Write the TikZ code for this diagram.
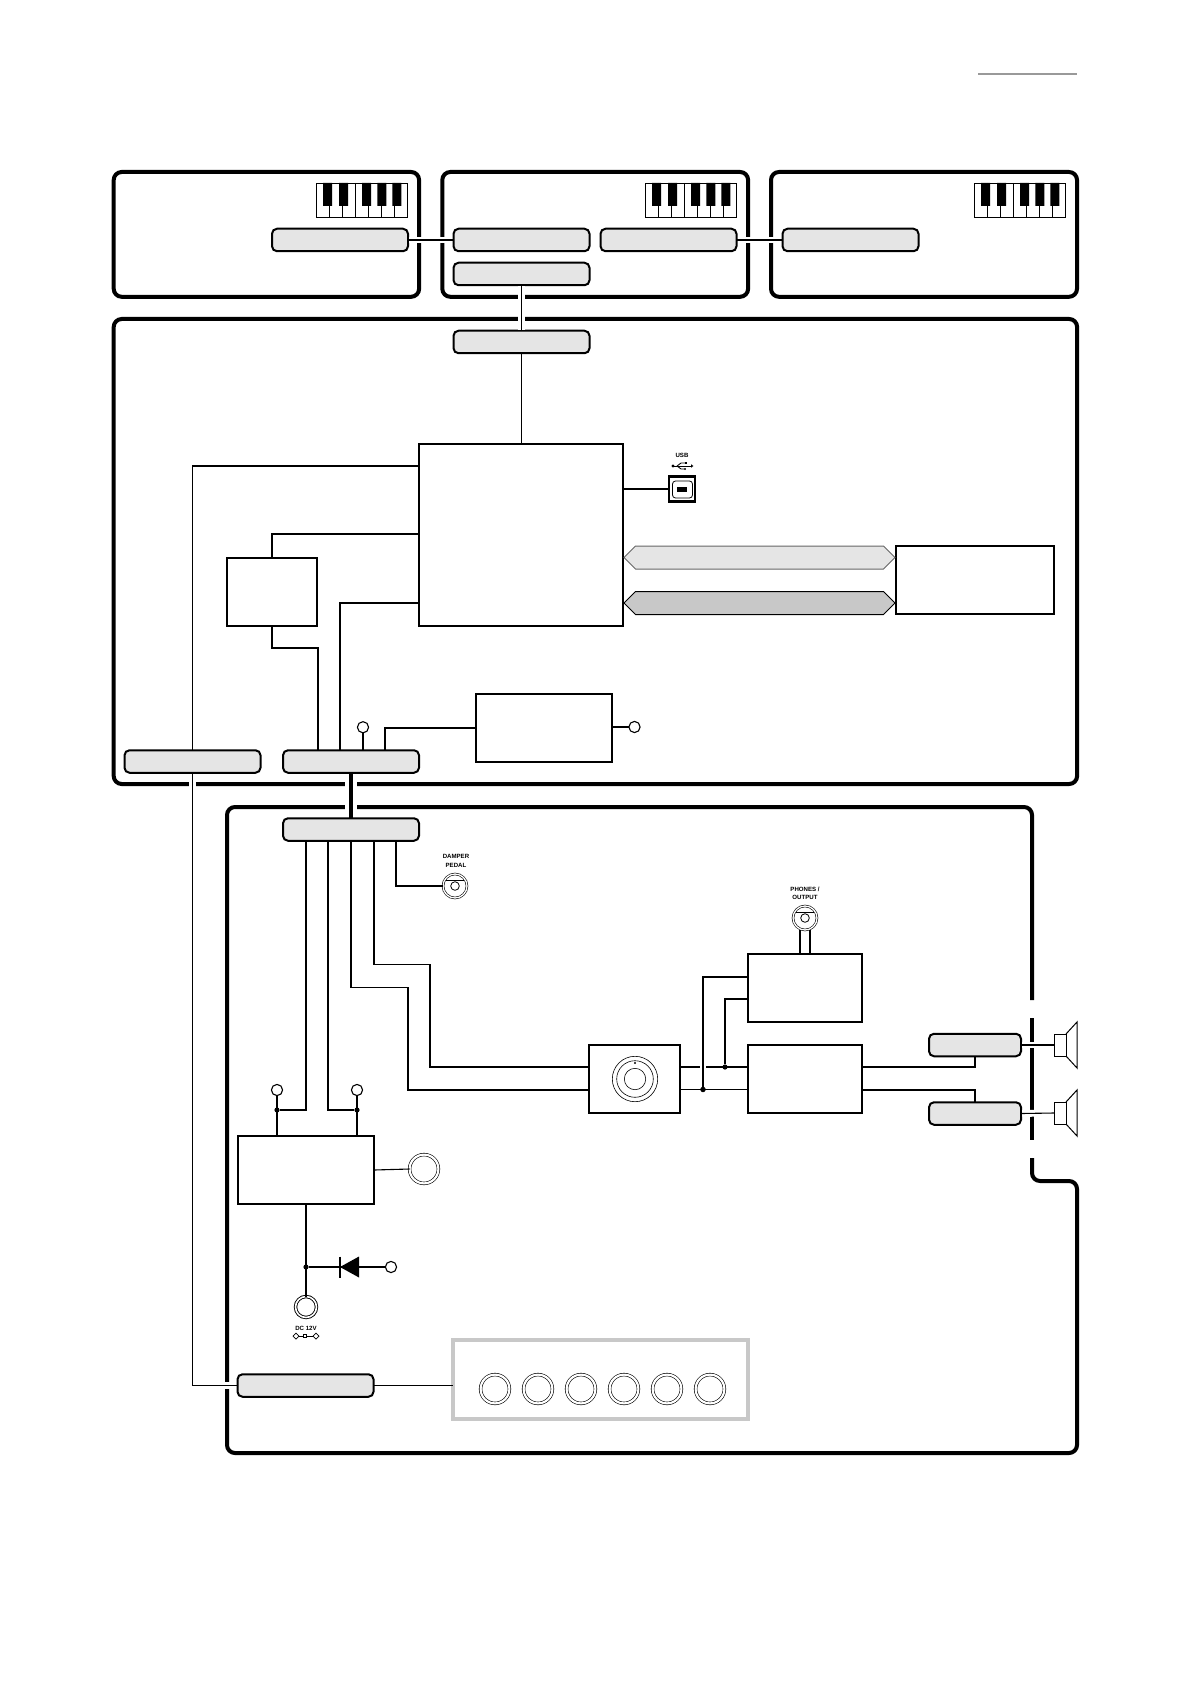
\documentclass[tikz,border=0pt]{standalone}
\usepackage{fontspec}
\setmainfont{Liberation Sans}
\usetikzlibrary{calc, shapes.geometric, shapes.symbols}
\definecolor{portgray}{HTML}{E5E5E5}
\definecolor{busgray}{HTML}{C8C8C8}
\tikzset{
    every node/.style={
        inner sep=0pt, outer sep=0pt
    },
    my-frame/.style={
        line width=2pt, rounded corners=4pt
    },
    my-frame-node/.style={
        draw, my-frame
    },
    my-box/.style={
        draw, line width=1pt, fill=white
    },
    my-port/.style={
        draw, line width=1pt, fill=portgray, rounded corners=2.5pt,
        minimum width=68pt, minimum height=11.25pt
    },
    my-short-port/.style={
        my-port, minimum width=46pt
    },
    my-bus/.style={
        signal, signal to=east and west, draw, line width=.5pt,
        minimum width=135.5pt, minimum height=11.5pt
    },
    my-wire/.style={
        line width=.55pt
    },
    my-cross-wire/.style={
        my-wire, preaction={draw, white, line width=3.4pt, shorten <=.6pt, shorten >=.6pt}
    },
    my-thick-wire/.style={
        line width=2pt, preaction={draw, white, line width=6pt, shorten <=.6pt, shorten >=.6pt}
    },
    my-dot/.style={
        fill, shape=circle, minimum size=2.6pt
    },
    my-probe/.style={
        draw, shape=circle, fill=white, line width=.55pt, minimum size=5.6pt
    },
    my-ring/.style={
        draw, shape=circle, line width=.3pt, double, double distance=1.1pt, minimum size=14.4pt
    },
    my-jack/.style={
        my-ring, double distance=.65pt, minimum size=12pt
    },
    my-thin-circle/.style={
        draw, shape=circle, line width=.3pt
    },
    my-text/.style={
        font=\bfseries\fontsize{3.05}{4.3}\selectfont, align=center
    },
    my-keys/.pic={
        \draw[line width=.4pt] (0,0) rectangle (90.6,34)
            (12.9,0) -- (12.9,34) (25.5,0) -- (25.5,34) (38.5,0) -- (38.5,34)
            (52,0) -- (52,34) (65,0) -- (65,34) (78,0) -- (78,34);
        \fill (6.3,0) rectangle ++(9,23) (22.3,0) rectangle ++(9,23) (45.3,0) rectangle ++(9,23)
            (60.5,0) rectangle ++(9,23) (75.5,0) rectangle ++(9,23);
    },
}
\begin{document}
\begin{tikzpicture}[x=.5pt, y=-.5pt]
    \useasboundingbox (0,0) rectangle (1191,1684);

    % TOP RULE
    \draw[line width=1pt, black!40] (978,74) -- (1077,74);

    % FRAMES
    \node[my-frame-node, minimum width=152.7pt, minimum height=62.4pt] (KBD1)   at (266.4,234.4) {};
    \node[my-frame-node, minimum width=152.9pt, minimum height=62.4pt] (KBD2)   at (595.2,234.4) {};
    \node[my-frame-node, minimum width=153pt, minimum height=62.4pt]   (KBD3)   at (924,234.4)   {};
    \node[my-frame-node, minimum width=481.7pt, minimum height=232.5pt] (MAIN)  at (595.4,551.5) {};
    \draw[my-frame] (1032,1000) -- (1032,807) -- (227,807) -- (227,1453) -- (1077,1453) -- (1077,1181) -- (1032,1181) -- (1032,1158);
    \draw[my-frame] (1032,1018) -- (1032,1140);

    % KEYBOARDS
    \pic at (316.8,183) {my-keys};
    \pic at (645.8,183) {my-keys};
    \pic at (974.8,183) {my-keys};

    % PORTS
    \node[my-port] (KBD1OUT)  at (340,240)      {};
    \node[my-port] (KBD2IN)   at (521.5,240)    {};
    \node[my-port] (KBD2USB)  at (521.5,274)    {};
    \node[my-port] (KBD2OUT)  at (668.5,240)    {};
    \node[my-port] (KBD3IN)   at (850.5,240)    {};
    \node[my-port] (MAINUSB)  at (521.5,342)    {};
    \node[my-port] (MAINL)    at (192.5,761.5)  {};
    \node[my-port] (MAINR)    at (351,761.5)    {};
    \node[my-port] (LOWTOP)   at (351,829.5)    {};
    \node[my-port] (LOWBOT)   at (305.5,1385.5) {};
    \node[my-short-port] (SPKPORT1) at (975,1045)   {};
    \node[my-short-port] (SPKPORT2) at (975,1113.5) {};

    % MAIN BOARD BOXES
    \node[my-box, minimum width=102pt, minimum height=91pt] (CPU)   at (521,535)   {};
    \node[my-box, minimum width=45pt, minimum height=34pt]  (SMALL) at (272,592)   {};
    \node[my-box, minimum width=68pt, minimum height=34pt]  (PSU)   at (544,728)   {};
    \node[my-box, minimum width=79pt, minimum height=34pt]  (MEM)   at (975,580)   {};

    % LOWER BOARD BOXES
    \node[my-box, minimum width=68pt, minimum height=34pt]   (PSB) at (306,1170)   {};
    \node[my-box, minimum width=45.5pt, minimum height=34pt] (VOL) at (634.5,1079) {};
    \node[my-box, minimum width=57pt, minimum height=34pt]   (AMP) at (805,1079)   {};
    \node[my-box, minimum width=57pt, minimum height=34pt]   (HPA) at (805,988)    {};
    \node[draw=busgray, line width=1.8pt, minimum width=147.5pt, minimum height=39.5pt] (PANEL) at (600.5,1379.5) {};

    % BUSES
    \node[my-bus, draw=black!60, fill=portgray] (BUSA) at (759.5,557.5) {};
    \node[my-bus, fill=busgray]                 (BUSB) at (759.5,603)   {};

    % USB SOCKET
    \node[my-box, line width=1.2pt, minimum width=13pt, minimum height=12.5pt] (USB) at (682,489) {};
    \node[draw, line width=.4pt, rounded corners=1.5pt, minimum width=10pt, minimum height=8.5pt] (USBIN) at (682.5,489.5) {};
    \node[fill, minimum width=5pt, minimum height=2.5pt] (USBPIN) at (682,489.5) {};
    \node[my-text] (USBTEXT) at (682,455) {USB};
    \coordinate (USBSYM) at (673,466);
    \draw[line width=.45pt] (USBSYM) -- ++(18,0);
    \draw[line width=.45pt] ($(USBSYM) + (4,0)$) -- ++(4,-3) -- ++(4,0) ($(USBSYM) + (4,0)$) -- ++(4,3) -- ++(3,0);
    \fill (USBSYM) circle (1.7);
    \fill ($(USBSYM) + (18,-1.8)$) -- ++(2.4,1.8) -- ++(-2.4,1.8) -- cycle;
    \fill ($(USBSYM) + (12,-4)$) rectangle ++(2,2);
    \fill ($(USBSYM) + (12,3)$) circle (1.1);

    % CPU CONNECTOR POINTS
    \coordinate (CPUW1) at ($(CPU.north west) + (0,22)$);
    \coordinate (CPUW2) at ($(CPU.north west) + (0,90)$);
    \coordinate (CPUW3) at ($(CPU.north west) + (0,159)$);
    \coordinate (MAINR1) at ($(MAINR.north) + (-33,0)$);
    \coordinate (MAINR2) at ($(MAINR.north) + (-11,0)$);
    \coordinate (MAINR3) at ($(MAINR.north) + (12,0)$);
    \coordinate (MAINR4) at ($(MAINR.north) + (34,0)$);

    % KEYBOARD CONNECTIONS
    \draw[my-cross-wire] (KBD1OUT) -- (KBD2IN);
    \draw[my-cross-wire] (KBD2OUT) -- (KBD3IN);
    \draw[my-cross-wire] (KBD2USB.south) -- (MAINUSB.north);

    % MAIN BOARD WIRES
    \draw[my-wire] (MAINUSB.south) -- (MAINUSB.south |- CPU.north);
    \draw[my-wire] (CPU.east |- USB) -- (USB.west);
    \draw[my-wire] (CPUW1) -| (MAINL.north);
    \draw[my-wire] (CPUW2) -| (SMALL.north);
    \draw[my-wire] (SMALL.south) -- ++(0,22) -| (MAINR1);
    \draw[my-wire] (CPUW3) -| (MAINR2);
    \draw[my-wire] (MAINR4) |- (PSU.west);
    \node[my-probe] (TPMAIN) at ($(MAINR3) + (0,-23)$) {};
    \draw[my-wire] (TPMAIN) -- (MAINR3);
    \node[my-probe] (TPPSU) at ($(PSU.east) + (22.5,-1)$) {};
    \draw[my-wire] (PSU.east |- TPPSU) -- (TPPSU);

    % BOARD TO BOARD WIRES
    \draw[my-cross-wire] (MAINL.south) |- (LOWBOT.west);
    \draw[my-thick-wire] (MAINR.south) -- (LOWTOP.north);
    \draw[my-wire] (LOWBOT.east) -- (PANEL.west |- LOWBOT);

    % JACKS
    \node[my-jack] (DAMPER) at (455,886) {};
    \node[my-thin-circle, line width=.4pt, minimum size=4.3pt] (DAMPERIN) at (455,886) {};
    \draw[line width=.4pt] ($(DAMPER) + (-9.3,-6)$) -- ($(DAMPER) + (9.3,-6)$);
    \node[my-text] (DAMPERTEXT) at (456,861) {DAMPER\\PEDAL};
    \node[my-jack] (PHONES) at (805,918) {};
    \node[my-thin-circle, line width=.4pt, minimum size=4.3pt] (PHONESIN) at (805,918) {};
    \draw[line width=.4pt] ($(PHONES) + (-9.3,-6)$) -- ($(PHONES) + (9.3,-6)$);
    \node[my-text] (PHONESTEXT) at (805,893.5) {PHONES /\\OUTPUT};
    \node[my-ring, line width=.45pt, double distance=.8pt, minimum size=10.5pt] (DCIN) at (306,1307) {};
    \node[my-ring] (POWER) at (424,1169) {};

    % LOWER PORT CONNECTOR POINTS
    \coordinate (LOW1) at ($(LOWTOP.south) + (-45,0)$);
    \coordinate (LOW2) at ($(LOWTOP.south) + (-23,0)$);
    \coordinate (LOW3) at (LOWTOP.south);
    \coordinate (LOW4) at ($(LOWTOP.south) + (23,0)$);
    \coordinate (LOW5) at ($(LOWTOP.south) + (45,0)$);
    \coordinate (VOLIN1) at ($(VOL.west) + (0,-12)$);
    \coordinate (VOLIN2) at ($(VOL.west) + (0,11)$);
    \coordinate (VOLOUT1) at ($(VOL.east) + (0,-12)$);
    \coordinate (VOLOUT2) at ($(VOL.east) + (0,10.5)$);
    \coordinate (AMPOUT1) at ($(AMP.east) + (0,-12)$);
    \coordinate (AMPOUT2) at ($(AMP.east) + (0,11)$);

    % LOWER BOARD WIRES
    \draw[my-wire] (LOW5) |- (DAMPER.west);
    \draw[my-wire] (LOW4) -- ++(0,124) -- ++(56,0) |- (VOLIN1);
    \draw[my-wire] (LOW3) -- ++(0,147) -- ++(57,0) |- (VOLIN2);
    \draw[my-wire] (PSB.east) -- (POWER.west);

    % POWER PROBES
    \node[my-probe] (TPL) at (277,1090) {};
    \node[my-probe] (TPR) at (357,1090) {};
    \node[my-dot]   (DOTL) at ($(TPL) + (0,20)$) {};
    \node[my-dot]   (DOTR) at ($(TPR) + (0,20)$) {};
    \draw[my-wire] (TPL) -- (TPL |- PSB.north);
    \draw[my-wire] (TPR) -- (TPR |- PSB.north);
    \draw[my-wire] (LOW1) |- (DOTL);
    \draw[my-wire] (LOW2) |- (DOTR);

    % DC INPUT AND DIODE
    \node[my-dot]   (DOTDC)  at ($(PSB.south) + (0,63)$) {};
    \coordinate     (DIODE)  at ($(DOTDC) + (34,0)$);
    \node[my-probe] (TPDC)   at ($(DOTDC) + (85,0)$) {};
    \draw[my-wire] (PSB.south) -- (DCIN.north);
    \draw[my-wire] (DOTDC) -- (TPDC);
    \fill (DIODE) -- ++(19,-10.5) -- ++(0,21) -- cycle;
    \draw[line width=1pt] ($(DIODE) + (0,-10.5)$) -- ($(DIODE) + (0,10.5)$);
    \node[my-text] (DCTEXT) at (306,1328) {DC 12V};
    \coordinate (DCSYM) at (306,1336);
    \draw[line width=.35pt] ($(DCSYM) + (-10,0)$) -- ($(DCSYM) + (10,0)$);
    \node[draw, fill=white, shape=diamond, line width=.35pt, minimum size=3pt] (DCA) at ($(DCSYM) + (-10,0)$) {};
    \node[draw, fill=white, shape=diamond, line width=.35pt, minimum size=3pt] (DCB) at ($(DCSYM) + (10,0)$)  {};
    \node[draw, fill=white, line width=.35pt, minimum size=1.5pt]              (DCC) at ($(DCSYM) + (-1,0)$)  {};

    % VOLUME KNOB
    \node[my-thin-circle, minimum size=22.7pt] (VOLA) at (635,1079) {};
    \node[my-thin-circle, minimum size=18.3pt] (VOLB) at (635,1079) {};
    \node[my-thin-circle, minimum size=10.7pt] (VOLC) at (635,1079) {};
    \node[my-dot, minimum size=1.2pt]          (VOLD) at (635,1063) {};

    % AMPLIFIER WIRES
    \draw[my-wire] (VOLOUT1) -- (AMP.west |- VOLOUT1);
    \draw[my-wire] (VOLOUT2) -- (AMP.west |- VOLOUT2);
    \node[my-dot] (DOTA) at ($(VOLOUT2) + (23,0)$) {};
    \node[my-dot] (DOTB) at ($(VOLOUT1) + (45,0)$) {};
    \coordinate (HPAIN1) at ($(HPA.west) + (0,-11)$);
    \coordinate (HPAIN2) at ($(HPA.west) + (0,11)$);
    \draw[my-cross-wire] (DOTA) |- (HPAIN1);
    \node[my-dot] at (DOTA) {};
    \draw[my-wire] (DOTB) |- (HPAIN2);
    \draw[my-wire] ($(PHONES.south) + (-5,0)$) -- ($(HPA.north) + (-5,0)$);
    \draw[my-wire] ($(PHONES.south) + (5,0)$) -- ($(HPA.north) + (5,0)$);

    % SPEAKERS
    \node[draw, line width=.5pt, minimum width=6pt, minimum height=11pt] (SPK1) at (1060,1045) {};
    \node[draw, line width=.5pt, minimum width=6pt, minimum height=11pt] (SPK2) at (1060,1113) {};
    \draw[line width=.5pt] (SPK1.north east) -- ++(11,-12) -- ++(0,46) -- (SPK1.south east);
    \draw[line width=.5pt] (SPK2.north east) -- ++(11,-12) -- ++(0,46) -- (SPK2.south east);
    \draw[my-cross-wire] (SPKPORT1.east) -- (SPK1.west);
    \draw[my-cross-wire] (SPKPORT2.east) -- (SPK2.west);
    \draw[my-wire] (AMPOUT1) -| (SPKPORT1.south);
    \draw[my-wire] (AMPOUT2) -| (SPKPORT2.north);

    % PANEL CONTROLS
    \node[my-ring] (POT1) at (495,1389) {};
    \node[my-ring] (POT2) at (538,1389) {};
    \node[my-ring] (POT3) at (581,1389) {};
    \node[my-ring] (POT4) at (624,1389) {};
    \node[my-ring] (POT5) at (667,1389) {};
    \node[my-ring] (POT6) at (710,1389) {};

\end{tikzpicture}
\end{document}
